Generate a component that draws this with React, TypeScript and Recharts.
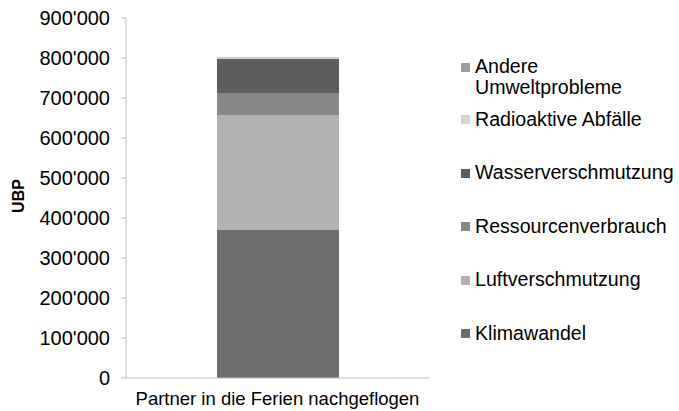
import { BarChart, Bar, XAxis, YAxis, Legend } from 'recharts';

const categories = ['Partner in die Ferien nachgeflogen'];

const klimawandel = [370000];
const luftverschmutzung = [287500];
const ressourcenverbrauch = [55000];
const wasserverschmutzung = [85000];
const radioaktiveAbfaelle = [3000];
const andereUmweltprobleme = [1500];

const yTicks = [0, 100000, 200000, 300000, 400000, 500000, 600000, 700000, 800000, 900000];

// bottom to top in the stack
const series = [
  { key: 'klima', name: 'Klimawandel', values: klimawandel, color: '#6d6d6d' },
  { key: 'luft', name: 'Luftverschmutzung', values: luftverschmutzung, color: '#b2b2b2' },
  { key: 'ressourcen', name: 'Ressourcenverbrauch', values: ressourcenverbrauch, color: '#878787' },
  { key: 'wasser', name: 'Wasserverschmutzung', values: wasserverschmutzung, color: '#5d5d5d' },
  { key: 'radio', name: 'Radioaktive Abfälle', values: radioaktiveAbfaelle, color: '#d3d3d3' },
  { key: 'andere', name: 'Andere Umweltprobleme', values: andereUmweltprobleme, color: '#9e9e9e' },
];

const data = categories.map((name, i) => {
  const row: Record<string, string | number> = { name };
  series.forEach((s) => {
    row[s.key] = s.values[i];
  });
  return row;
});

const FONT = '"Liberation Sans", Arial, sans-serif';
const AXIS_GREY = '#bfbfbf';

const formatThousands = (v: number) =>
  String(v).replace(/\B(?=(\d{3})+(?!\d))/g, "'");

function LegendContent() {
  const items = [...series].reverse();
  return (
    <div style={{ fontFamily: FONT, fontSize: 19.6, lineHeight: '20.5px', color: '#000' }}>
      {items.map((s, i) => (
        <div
          key={s.key}
          style={{ display: 'flex', alignItems: 'flex-start', marginTop: i === 0 ? 0 : i === 1 ? 11.8 : 33 }}
        >
          <span
            style={{
              width: 9,
              height: 9,
              marginTop: 6.5,
              marginRight: 5,
              background: s.color,
              flex: 'none',
            }}
          />
          <span style={{ width: i === 0 ? 160 : 'auto', whiteSpace: i === 0 ? 'normal' : 'nowrap' }}>
            {s.name}
          </span>
        </div>
      ))}
    </div>
  );
}

export default function App() {
  return (
    <div style={{ position: 'absolute', left: 0, top: 0 }}>
      <BarChart
        width={679}
        height={411}
        data={data}
        margin={{ top: 18, right: 250, bottom: 0, left: 0 }}
      >
        <XAxis
          xAxisId="edge"
          type="number"
          domain={[0, 1]}
          ticks={[0, 1]}
          height={0}
          axisLine={false}
          tick={false}
          tickSize={5}
          tickLine={{ stroke: AXIS_GREY }}
        />
        <XAxis
          xAxisId="cat"
          dataKey="name"
          height={33}
          axisLine={{ stroke: AXIS_GREY }}
          tickLine={false}
          tickSize={6}
          tickMargin={8}
          tick={{ fill: '#000', fontSize: 18.5, fontFamily: FONT }}
        />
        <YAxis
          width={126}
          domain={[0, 900000]}
          ticks={yTicks}
          interval={0}
          tickFormatter={formatThousands}
          axisLine={{ stroke: AXIS_GREY }}
          tickLine={{ stroke: AXIS_GREY }}
          tickSize={5}
          tickMargin={11}
          tick={{ fill: '#000', fontSize: 20, fontFamily: FONT }}
          label={{
            value: 'UBP',
            content: ({ viewBox }: any) => {
              const cy = viewBox.y + viewBox.height / 2 - 2;
              return (
                <text
                  x={24}
                  y={cy}
                  transform={`rotate(-90, 24, ${cy})`}
                  textAnchor="middle"
                  fontFamily={FONT}
                  fontSize={16}
                  fontWeight="bold"
                  fill="#000"
                >
                  UBP
                </text>
              );
            },
          }}
        />
        <Legend
          layout="vertical"
          align="center"
          verticalAlign="middle"
          wrapperStyle={{ position: 'absolute', left: 461, top: 56, width: 218 }}
          content={<LegendContent />}
        />
        {series.map((s) => (
          <Bar
            key={s.key}
            xAxisId="cat"
            dataKey={s.key}
            name={s.name}
            stackId="a"
            fill={s.color}
            barSize={122}
            isAnimationActive={false}
          />
        ))}
      </BarChart>
    </div>
  );
}
